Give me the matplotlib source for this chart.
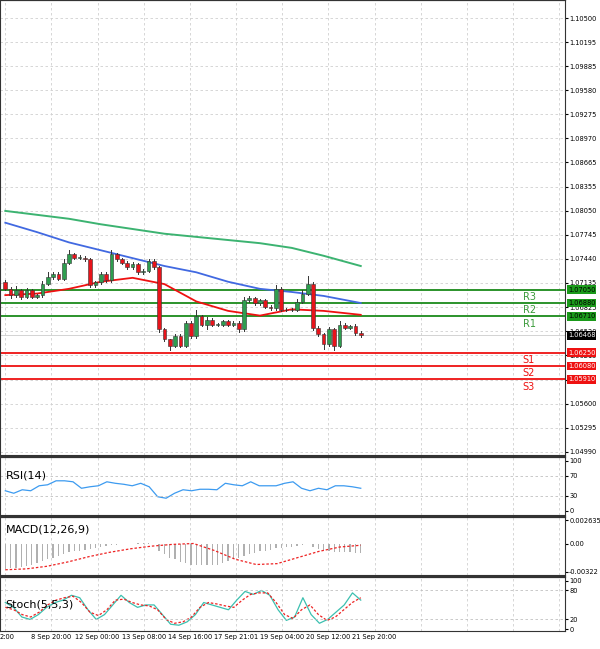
import matplotlib.pyplot as plt
from matplotlib.patches import Rectangle

# candle closes (open = previous close)
closes = [1.07062, 1.06979, 1.07042, 1.06959, 1.07042, 1.06959, 1.06979, 1.07125, 1.07208, 1.07249,
          1.07187, 1.07394, 1.07498, 1.07457, 1.07457, 1.07436, 1.07104, 1.07145, 1.07249, 1.07166,
          1.07498, 1.07436, 1.07394, 1.07332, 1.07374, 1.07270, 1.07291, 1.07415, 1.07332, 1.06544,
          1.06419, 1.06336, 1.06461, 1.06336, 1.06627, 1.06461, 1.06710, 1.06606, 1.06668, 1.06606,
          1.06606, 1.06647, 1.06606, 1.06627, 1.06544, 1.06917, 1.06938, 1.06876, 1.06917, 1.06834,
          1.06813, 1.07062, 1.06793, 1.06793, 1.06793, 1.06896, 1.07000, 1.07125, 1.06564, 1.06481,
          1.06357, 1.06544, 1.06336, 1.06606, 1.06564, 1.06585, 1.06502, 1.06468]
first_open = 1.07145
wick_up = [3, 2, 5, 2, 3, 2, 2, 3, 6, 3, 2, 5, 6, 2, 3, 2, 2, 2, 3, 2, 6, 2, 2, 2, 3, 2, 2, 3, 2, 2,
           2, 1, 2, 2, 3, 2, 8, 2, 3, 2, 2, 2, 2, 3, 2, 4, 3, 2, 2, 2, 2, 5, 2, 2, 2, 3, 4, 10, 2, 2,
           2, 3, 2, 4, 2, 2, 3, 2]
wick_dn = [2, 3, 2, 3, 2, 2, 2, 2, 2, 2, 2, 2, 2, 2, 2, 2, 2, 2, 2, 2, 2, 2, 2, 2, 2, 2, 2, 2, 2, 3,
           2, 5, 2, 2, 2, 2, 2, 2, 6, 2, 2, 2, 2, 2, 3, 2, 2, 2, 2, 2, 2, 2, 2, 2, 2, 2, 2, 2, 3, 2,
           6, 2, 5, 2, 2, 2, 3, 2]

ma_x = [0, 6, 12, 18, 24, 30, 36, 42, 48, 54, 60, 67]
ma_green = [1.0805, 1.0800, 1.0795, 1.0788, 1.0782, 1.0776, 1.0772, 1.0768, 1.0764, 1.0758, 1.0748, 1.0735]
ma_blue = [1.0790, 1.0778, 1.0765, 1.0755, 1.0745, 1.0735, 1.0727, 1.0715, 1.0706, 1.0702, 1.0697, 1.0688]
ma_red = [1.0698, 1.0700, 1.0706, 1.0715, 1.0720, 1.0712, 1.0690, 1.0678, 1.0672, 1.0680, 1.0678, 1.0673]

res_levels = [1.07050, 1.06880, 1.06710]
res_names = ["R3", "R2", "R1"]
sup_levels = [1.06250, 1.06080, 1.05910]
sup_names = ["S1", "S2", "S3"]

yticks = [1.10500, 1.10195, 1.09885, 1.09580, 1.09275, 1.08970, 1.08665, 1.08355, 1.08050, 1.07745,
          1.07440, 1.07135, 1.06825, 1.06520, 1.06215, 1.05905, 1.05600, 1.05295, 1.04990]

rsi = [40, 35, 42, 40, 50, 52, 60, 60, 58, 45, 48, 50, 58, 55, 53, 50, 55, 48, 28, 25, 35, 42, 40,
       43, 43, 42, 55, 52, 50, 58, 50, 50, 50, 55, 58, 45, 40, 45, 42, 50, 50, 48, 45]

macd_hist = [-0.0029, -0.0028, -0.0028, -0.0027, -0.0026, -0.0024, -0.0022, -0.0020, -0.0018, -0.0016,
             -0.0014, -0.0012, -0.0010, -0.0009, -0.0008, -0.0007, -0.0006, -0.0005, -0.0004, -0.0003,
             -0.0002, -0.0002, -0.0001, -0.0001, 0.0000, 0.0001, 0.0001, 0.0001, 0.0000, -0.0008,
             -0.0012, -0.0016, -0.0018, -0.0021, -0.0022, -0.0024, -0.0024, -0.0025, -0.0025, -0.0025,
             -0.0024, -0.0022, -0.0020, -0.0018, -0.0017, -0.0014, -0.0012, -0.0011, -0.0009, -0.0008,
             -0.0007, -0.0005, -0.0005, -0.0004, -0.0004, -0.0003, -0.0002, -0.0001, -0.0004, -0.0006,
             -0.0008, -0.0009, -0.0010, -0.0010, -0.0010, -0.0010, -0.0011, -0.0011]
macd_signal = [-0.0030, -0.0029, -0.0026, -0.0021, -0.0015, -0.0010, -0.0006, -0.0003, -0.0001, 0.0000,
               -0.0008, -0.0018, -0.0024, -0.0023, -0.0016, -0.0009, -0.0004, -0.0002]

stoch_k = [55, 45, 25, 20, 30, 45, 55, 60, 70, 65, 40, 20, 30, 50, 70, 55, 45, 50, 50, 30, 10, 8,
           15, 30, 55, 50, 45, 40, 60, 78, 72, 80, 70, 40, 18, 25, 65, 30, 12, 20, 35, 50, 75, 60]
stoch_d = [45, 40, 30, 25, 35, 50, 60, 65, 68, 55, 35, 28, 40, 60, 62, 55, 50, 48, 40, 20, 12, 15,
           25, 45, 55, 52, 48, 45, 60, 72, 75, 75, 55, 30, 22, 40, 50, 30, 18, 25, 40, 55, 65]

xlabels = ["2:00", "8 Sep 20:00", "12 Sep 00:00", "13 Sep 08:00", "14 Sep 16:00",
           "17 Sep 21:01", "19 Sep 04:00", "20 Sep 12:00", "21 Sep 20:00"]

n = len(closes)
step = 8.7
xlim = (-1, 105.5)
grid_x = [i * step for i in range(13)]
FS = 4.8

fig = plt.figure(figsize=(6, 6.49), dpi=100)
W = 565 / 600
ax = fig.add_axes([0, 0.299, W, 0.701])
ax_rsi = fig.add_axes([0, 0.207, W, 0.089])
ax_macd = fig.add_axes([0, 0.114, W, 0.089])
ax_st = fig.add_axes([0, 0.027, W, 0.084])

for a in (ax, ax_rsi, ax_macd, ax_st):
    a.set_xlim(*xlim)
    a.yaxis.tick_right()
    a.tick_params(axis='y', labelsize=FS, length=2, pad=1)
    a.tick_params(axis='x', length=0)
    a.set_xticks([])
    for gx in grid_x:
        a.axvline(gx, color='#d0d0d0', lw=0.6, ls=(0, (3, 3)), zorder=0)
    for s in a.spines.values():
        s.set_color('#333333')
        s.set_linewidth(0.8)
    a.spines['top'].set_linewidth(1.6)

# candles
opens = [first_open] + closes[:-1]
for i in range(n):
    o, c = opens[i], closes[i]
    hi = max(o, c) + wick_up[i] * 1e-4
    lo = min(o, c) - wick_dn[i] * 1e-4
    col = '#2e9e4f' if c >= o else '#e8141b'
    ax.plot([i, i], [lo, hi], color='#333333', lw=0.7, zorder=3)
    ax.add_patch(Rectangle((i - 0.35, min(o, c)), 0.7, max(abs(c - o), 0.00003),
                           facecolor=col, edgecolor='#333333', lw=0.4, zorder=4))

ax.plot(ma_x, ma_green, color='#3cb371', lw=1.4, zorder=2)
ax.plot(ma_x, ma_blue, color='#4169e1', lw=1.3, zorder=2)
ax.plot(ma_x, ma_red, color='#ee1111', lw=1.3, zorder=2)

for lv, nm in zip(res_levels, res_names):
    ax.axhline(lv, color='#1a8a1a', lw=1.3, zorder=1)
    ax.text(97.5, lv - 0.0003, nm, color='#3a9a3a', fontsize=7, va='top')
    ax.text(1.005, lv, "%.5f" % lv, transform=ax.get_yaxis_transform(), fontsize=FS, color='black',
            va='center', bbox=dict(facecolor='#1a9a1a', edgecolor='none', pad=0.8))
for lv, nm in zip(sup_levels, sup_names):
    ax.axhline(lv, color='#ee1111', lw=1.3, zorder=1)
    ax.text(97.5, lv - 0.0003, nm, color='#ee1111', fontsize=7, va='top')
    ax.text(1.005, lv, "%.5f" % lv, transform=ax.get_yaxis_transform(), fontsize=FS, color='white',
            va='center', bbox=dict(facecolor='#ee1111', edgecolor='none', pad=0.8))
last = closes[-1]
ax.axhline(last, color='#cccccc', lw=0.6)
ax.text(1.005, last, "%.5f" % last, transform=ax.get_yaxis_transform(), fontsize=FS, color='white',
        va='center', bbox=dict(facecolor='black', edgecolor='none', pad=0.8))

ax.set_ylim(1.04950, 1.10729)
ax.set_yticks(yticks)
ax.set_yticklabels(["%.5f" % t for t in yticks])
for t in yticks:
    ax.axhline(t, color='#d0d0d0', lw=0.6, ls=(0, (3, 3)), zorder=0)

# RSI
rx = [i * (n - 1) / (len(rsi) - 1) for i in range(len(rsi))]
ax_rsi.plot(rx, rsi, color='#3d9bf0', lw=0.9)
ax_rsi.set_ylim(-8, 108)
ax_rsi.set_yticks([0, 30, 70, 100])
for t in (30, 70):
    ax_rsi.axhline(t, color='#c0c0c0', lw=0.6, ls=(0, (3, 3)))
ax_rsi.text(0.01, 0.68, "RSI(14)", transform=ax_rsi.transAxes, fontsize=8, va='center')

# MACD
ax_macd.bar(range(n), macd_hist, width=0.25, color='#b0b0b0')
sx = [i * (n - 1) / (len(macd_signal) - 1) for i in range(len(macd_signal))]
ax_macd.plot(sx, macd_signal, color='#ee2222', lw=0.9, ls=(0, (2, 1.5)))
ax_macd.set_ylim(-0.0036, 0.0030)
ax_macd.set_yticks([-0.00322, 0.0, 0.002635])
ax_macd.set_yticklabels(["-0.00322", "0.00", "0.002635"])
ax_macd.text(0.01, 0.78, "MACD(12,26,9)", transform=ax_macd.transAxes, fontsize=8, va='center')

# Stochastic
kx = [i * (n - 1) / (len(stoch_k) - 1) for i in range(len(stoch_k))]
dx = [i * (n - 1) / (len(stoch_d) - 1) for i in range(len(stoch_d))]
ax_st.plot(kx, stoch_k, color='#3cc0b0', lw=0.9)
ax_st.plot(dx, stoch_d, color='#ee2222', lw=0.9, ls=(0, (2, 1.5)))
ax_st.set_ylim(-5, 108)
ax_st.set_yticks([0, 20, 80, 100])
for t in (20, 80):
    ax_st.axhline(t, color='#c0c0c0', lw=0.6, ls=(0, (3, 3)))
ax_st.text(0.01, 0.5, "Stoch(5,5,3)", transform=ax_st.transAxes, fontsize=8, va='center')
ax_st.set_xticks(grid_x[1:len(xlabels)])
ax_st.set_xticklabels(xlabels[1:], fontsize=FS)
ax_st.tick_params(axis='x', pad=2)
ax_st.annotate(xlabels[0], xy=(0, 0), xycoords='axes fraction', xytext=(0, -2),
               textcoords='offset points', fontsize=FS, va='top', ha='left')

fig.savefig("out.png", dpi=100)
